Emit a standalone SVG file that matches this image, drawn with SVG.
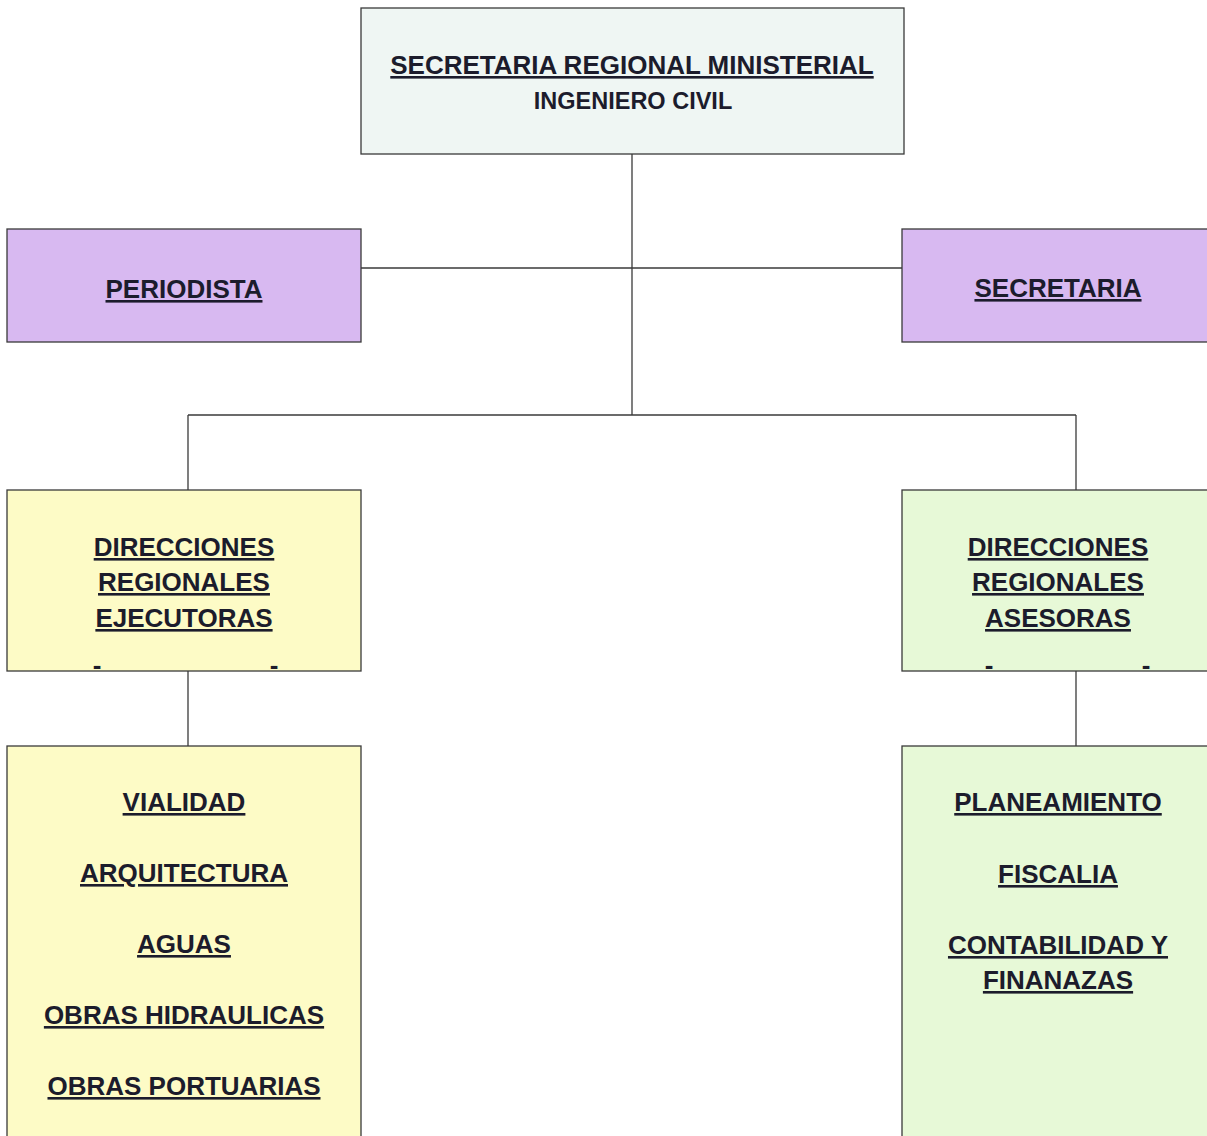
<svg xmlns="http://www.w3.org/2000/svg" width="1207" height="1136" viewBox="0 0 1207 1136">
<style>
.box{stroke:#3a3a3a;stroke-width:1.3}
.t{font-family:"Liberation Sans",Arial,sans-serif;font-weight:bold;font-size:26px;fill:#1c1c2c;text-anchor:middle}
.u{text-decoration:underline}
.c{stroke:#3a3a3a;stroke-width:1.3;fill:none}
</style>
<rect width="1207" height="1136" fill="#ffffff"/>
<g id="connectors">
<line class="c" x1="632" y1="154" x2="632" y2="415"/>
<line class="c" x1="361" y1="268" x2="902" y2="268"/>
<line class="c" x1="188" y1="415" x2="1076" y2="415"/>
<line class="c" x1="188" y1="415" x2="188" y2="490"/>
<line class="c" x1="1076" y1="415" x2="1076" y2="490"/>
<line class="c" x1="188" y1="671" x2="188" y2="746"/>
<line class="c" x1="1076" y1="671" x2="1076" y2="746"/>
</g>
<g id="seremi">
<rect class="box" x="361" y="8" width="543" height="146" fill="#eff6f3"/>
<text class="t u" x="632" y="74">SECRETARIA REGIONAL MINISTERIAL</text>
<text class="t" x="633" y="109" style="font-size:23.5px">INGENIERO CIVIL</text>
</g>
<g id="periodista">
<rect class="box" x="7" y="229" width="354" height="113" fill="#d8b9f1"/>
<text class="t u" x="184" y="298">PERIODISTA</text>
</g>
<g id="secretaria">
<rect class="box" x="902" y="229" width="310" height="113" fill="#d8b9f1"/>
<text class="t u" x="1058" y="297">SECRETARIA</text>
</g>
<g id="ejecutoras">
<rect class="box" x="7" y="490" width="354" height="181" fill="#fdfbc6"/>
<text class="t u" x="184" y="556">DIRECCIONES</text>
<text class="t u" x="184" y="591">REGIONALES</text>
<text class="t u" x="184" y="627">EJECUTORAS</text>
<text class="t" x="97" y="674">-</text>
<text class="t" x="274" y="674">-</text>
</g>
<g id="asesoras">
<rect class="box" x="902" y="490" width="310" height="181" fill="#e7f9d7"/>
<text class="t u" x="1058" y="556">DIRECCIONES</text>
<text class="t u" x="1058" y="591">REGIONALES</text>
<text class="t u" x="1058" y="627">ASESORAS</text>
<text class="t" x="989" y="674">-</text>
<text class="t" x="1146" y="674">-</text>
</g>
<g id="ejecutoras-list">
<rect class="box" x="7" y="746" width="354" height="400" fill="#fdfbc6"/>
<text class="t u" x="184" y="811">VIALIDAD</text>
<text class="t u" x="184" y="882">ARQUITECTURA</text>
<text class="t u" x="184" y="953">AGUAS</text>
<text class="t u" x="184" y="1024">OBRAS HIDRAULICAS</text>
<text class="t u" x="184" y="1095">OBRAS PORTUARIAS</text>
</g>
<g id="asesoras-list">
<rect class="box" x="902" y="746" width="310" height="400" fill="#e7f9d7"/>
<text class="t u" x="1058" y="811">PLANEAMIENTO</text>
<text class="t u" x="1058" y="883">FISCALIA</text>
<text class="t u" x="1058" y="954">CONTABILIDAD Y</text>
<text class="t u" x="1058" y="989">FINANAZAS</text>
</g>
</svg>
